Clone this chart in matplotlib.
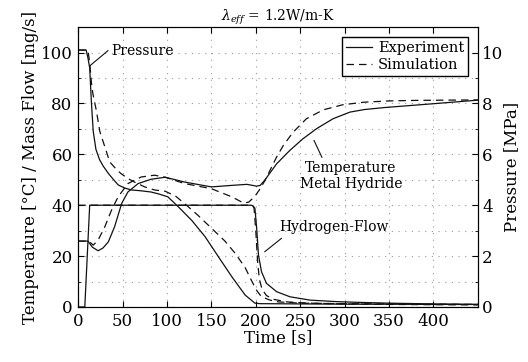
import matplotlib
matplotlib.use("Agg")
from matplotlib import pyplot as plt
from matplotlib.ticker import MultipleLocator

# values
t_p_exp = [0, 9, 11, 13, 15, 17, 20, 24, 28, 34, 40, 45, 52, 60, 70, 82, 90, 101, 113, 128,
           143, 158, 173, 188, 199, 205, 250, 300, 350, 400, 450]
p_exp = [10.1, 10.1, 9.8, 9.4, 8.0, 6.9, 6.2, 5.8, 5.55, 5.25, 5.0, 4.8, 4.68, 4.6, 4.57, 4.52,
         4.45, 4.33, 3.93, 3.4, 2.76, 1.97, 1.19, 0.47, 0.15, 0.13, 0.12, 0.11, 0.11, 0.1, 0.1]

t_p_sim = [0, 11, 13, 15, 16.5, 20.6, 24.4, 30, 35.6, 42, 48, 56, 64, 75, 86, 98, 110, 122, 135,
           150, 165, 177, 188, 195, 201, 206, 215, 225, 250, 300, 350, 400, 450]
p_sim = [10.1, 10.1, 9.6, 8.8, 8.4, 7.7, 6.9, 6.3, 5.7, 5.45, 5.25, 5.05, 4.9, 4.72, 4.6, 4.55,
         4.35, 4.0, 3.6, 3.1, 2.6, 2.1, 1.55, 1.05, 0.65, 0.42, 0.28, 0.2, 0.15, 0.13, 0.12, 0.11, 0.1]

t_T_exp = [0, 11, 16, 22.5, 28, 34, 41, 49, 56, 67.5, 82, 98, 120, 150, 173, 190, 201, 205, 210,
           223.5, 238.5, 253, 268.5, 287, 306, 322, 345, 367, 400, 425, 450]
T_exp = [25.9, 25.9, 23.5, 22.1, 23.2, 25.6, 31.5, 40.7, 45.2, 48.5, 50.2, 51, 49.1, 47.2, 47.8,
         48.2, 47.5, 47.8, 49.8, 56.3, 61.6, 66.1, 70.1, 74, 76.6, 77.6, 78.4, 79.0, 79.9, 80.6, 81.3]

t_T_sim = [0, 12, 17, 22.5, 30, 37.5, 45, 56, 71, 86, 98, 120, 150, 173, 186, 192, 199, 204, 210,
           216, 223.5, 231, 242, 257, 276, 298, 322, 350, 378, 410, 450]
T_sim = [25.9, 25.9, 24.3, 26.3, 31.5, 38, 43.3, 48.5, 51.1, 51.8, 51, 48.5, 46.5, 43.3, 40.9,
         41.2, 43.5, 46, 49.5, 53.7, 59, 63.5, 68.7, 74, 77.5, 79.5, 80.5, 81, 81.2, 81.3, 81.4]

t_m_exp = [0, 7.5, 13, 150, 195, 197, 199, 201, 203, 206.5, 212, 223.5, 238.5, 261, 291, 317,
           350, 400, 450]
m_exp = [0, 0, 40, 40, 40, 39.7, 38.8, 31, 20.4, 13.8, 9.3, 6, 4, 2.7, 2.1, 1.8, 1.5, 1.2, 1.0]

t_m_sim = [0, 196, 198, 200, 202, 204, 207, 212, 220, 235, 260, 300, 350, 400, 450]
m_sim = [40, 40, 39, 30, 18, 11, 7, 4.5, 3, 2, 1.5, 1.2, 1.0, 0.9, 0.8]

plt.rcParams['font.family'] = ['DejaVu Serif']
plt.rcParams['mathtext.fontset'] = 'dejavuserif'

fig = plt.figure(figsize=(5.28, 3.62), dpi=100)
ax = fig.add_axes([0.148, 0.152, 0.757, 0.773])
ax2 = ax.twinx()

lw = 0.9
dash = (0, (6, 4))
col = '#111111'
l1, = ax.plot(t_T_exp, T_exp, color=col, lw=lw)
l2, = ax.plot(t_T_sim, T_sim, color=col, lw=lw, linestyle=dash)
ax.plot(t_m_exp, m_exp, color=col, lw=lw)
ax.plot(t_m_sim, m_sim, color=col, lw=lw, linestyle=dash)
ax2.plot(t_p_exp, p_exp, color=col, lw=lw)
ax2.plot(t_p_sim, p_sim, color=col, lw=lw, linestyle=dash)

ax.set_xlim(0, 450)
ax.set_ylim(0, 110)
ax2.set_ylim(0, 11)
ax.set_xticks(range(0, 401, 50))
ax.yaxis.set_major_locator(MultipleLocator(20))
ax.yaxis.set_minor_locator(MultipleLocator(10))
ax2.yaxis.set_major_locator(MultipleLocator(2))
ax2.yaxis.set_minor_locator(MultipleLocator(1))

ax.grid(True, which='major', axis='x', color='#999999', linestyle=(0, (1, 5)), lw=0.8)
ax.grid(True, which='both', axis='y', color='#999999', linestyle=(0, (1, 5)), lw=0.8)

fs = 12
ax.tick_params(direction='in', top=True, length=4, labelsize=fs, pad=4)
ax.tick_params(which='minor', direction='in', length=2)
ax2.tick_params(direction='in', length=4, labelsize=fs, pad=3)
ax2.tick_params(which='minor', direction='in', length=2)

ax.set_xlabel('Time [s]', fontsize=fs, labelpad=0)
ax.set_ylabel('Temperature [°C] / Mass Flow [mg/s]', fontsize=fs, labelpad=1)
ax2.set_ylabel('Pressure [MPa]', fontsize=fs, labelpad=0)
ax.set_title(r'$\lambda_{eff}$ = 1.2W/m-K', fontsize=10, pad=5)

ax2.legend([l1, l2], ['Experiment', 'Simulation'], loc='upper right', fontsize=10.5,
           fancybox=False, edgecolor='black', framealpha=1, handlelength=1.8,
           borderpad=0.25, labelspacing=0.2, handletextpad=0.4, borderaxespad=0.7)

afs = 10
lead = dict(arrowstyle='-', color=col, lw=0.8, shrinkA=0, shrinkB=0)
ax.text(37, 100.5, 'Pressure', fontsize=afs, va='center')
ax.annotate('', xy=(13.5, 94.9), xytext=(33.7, 100.8), arrowprops=lead)
ax.text(307, 51.5, 'Temperature\nMetal Hydride', fontsize=afs, ha='center', va='center',
        linespacing=1.25)
ax.annotate('', xy=(265.5, 65.5), xytext=(274.5, 58.8), arrowprops=lead)
ax.text(288, 31.4, 'Hydrogen-Flow', fontsize=afs, ha='center', va='center')
ax.annotate('', xy=(210, 21.7), xytext=(229, 27), arrowprops=lead)

plt.savefig('out.png', dpi=100)
